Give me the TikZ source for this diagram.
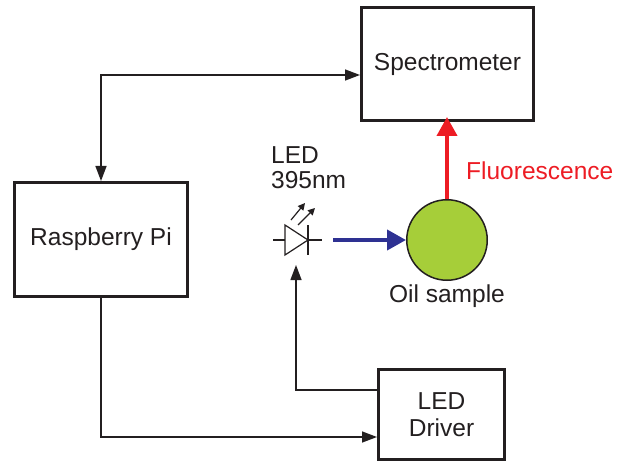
\documentclass[tikz,border=0pt]{standalone}
\usepackage{fontspec}
\setmainfont{Liberation Sans}
\usetikzlibrary{arrows.meta,calc}
\definecolor{fluored}{HTML}{ED1C24}
\definecolor{ledblue}{HTML}{2E3192}
\definecolor{oilgreen}{HTML}{A6CE39}
\definecolor{ink}{HTML}{231F20}
\begin{document}
\begin{tikzpicture}[x=1pt,y=-1pt,
  every node/.style={font=\fontsize{24.5}{27}\selectfont, text=ink},
  blockbox/.style={draw=ink, line width=3pt, rectangle, inner sep=0pt, align=center},
  wire/.style={draw=ink, line width=1.4pt},
  warrow/.style={wire, -{Triangle[length=15pt,width=11pt]}},
  dwarrow/.style={wire, {Triangle[length=15pt,width=11pt]}-{Triangle[length=15pt,width=11pt]}},
  smallarrow/.style={draw=ink, line width=1.2pt, -{Triangle[length=7pt,width=7pt]}},
  beam/.style={line width=4pt, -{Triangle[length=19pt,width=20pt]}}]
\useasboundingbox (0,0) rectangle (617,462);

\node[blockbox, minimum width=172pt, minimum height=113pt] (spec) at (447.5,64) {Spectrometer};
\node[blockbox, minimum width=173pt, minimum height=114pt] (rpi) at (101,239.5) {Raspberry Pi};
\node[blockbox, minimum width=126pt, minimum height=90pt] (drv) at (441.5,414.5) {LED\\Driver};

\node[circle, draw=ink, line width=1.5pt, fill=oilgreen, minimum size=80.5pt, inner sep=0pt] (sample) at (447,240) {};
\node[anchor=base, inner sep=0pt] (oillabel) at (447,302) {Oil sample};
\node[anchor=base west, inner sep=0pt, text=fluored] (fluolabel) at (466,180) {Fluorescence};
\node[anchor=north west, inner sep=0pt, align=left, font=\fontsize{24.5}{25}\selectfont] (ledlabel) at (271,146) {LED\\395nm};

% LED diode symbol
\coordinate (diode) at (296,240);
\coordinate (ledout) at (333,240);
\coordinate (ledin) at (296,265);
\draw[wire, line width=1.2pt] (273,240) -- (322,240);
\draw[wire, line width=1.2pt, fill=white] (285,225) -- (285,255) -- (308,240) -- cycle;
\draw[wire, line width=1.2pt] (308,225) -- (308,255);
\draw[smallarrow] (291,220) -- (305,203);
\draw[smallarrow] (298,225) -- (315,208);

% connectors
\draw[dwarrow] (rpi.north) |- ([yshift=-11pt]spec.west);
\draw[warrow] (rpi.south) |- ([yshift=-22.5pt]drv.west);
\draw[warrow] ([yshift=24.5pt]drv.west) -| (ledin);
\draw[beam, draw=ledblue, fill=ledblue] (ledout) -- (sample.west |- ledout);
\draw[beam, draw=fluored, fill=fluored] (sample.north) -- ([yshift=5pt]spec.south -| sample.north);
\end{tikzpicture}
\end{document}
